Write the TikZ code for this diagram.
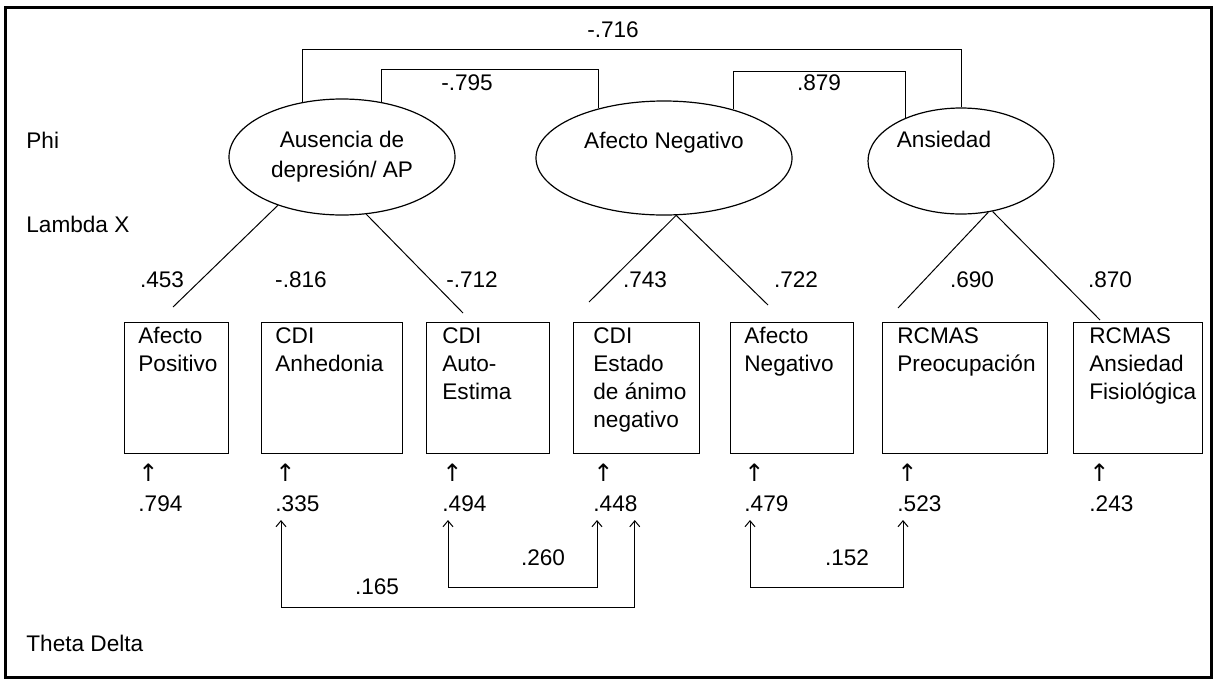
\documentclass[tikz,border=0pt]{standalone}
\usepackage{fontspec}
\setmainfont{Liberation Sans}
\newfontfamily\arrowfont{DejaVu Sans}
\usetikzlibrary{shapes.geometric,arrows.meta}

\newcommand{\uparr}{{\arrowfont\fontsize{12}{15}\selectfont ↑}}

\begin{document}
\begin{tikzpicture}[
    x=0.5pt, y=-0.5pt,
    latent/.style={ellipse, draw=black, line width=0.6pt, inner sep=0pt, align=center, font=\fontsize{11.3}{15}\selectfont},
    indicator/.style={rectangle, draw=black, line width=0.7pt, minimum height=65.5pt, inner sep=0pt, anchor=north west},
    indtext/.style={anchor=north west, align=left, inner sep=0pt, font=\fontsize{11.3}{14}\selectfont},
    errtext/.style={anchor=north west, align=left, inner sep=0pt, font=\fontsize{11.3}{15}\selectfont},
    coef/.style={inner sep=0pt, font=\fontsize{11.3}{13}\selectfont},
    rowlabel/.style={anchor=west, inner sep=0pt, font=\fontsize{11.3}{13}\selectfont},
    link/.style={line width=0.5pt},
    cov/.style={line width=0.5pt, {Straight Barb[length=3pt,width=5pt]}-{Straight Barb[length=3pt,width=5pt]}}
]

% Frame
\useasboundingbox (0,0) rectangle (1214,681);
\draw[line width=1.5pt] (5,7) rectangle (1211,677);

% Row labels
\node[rowlabel] (phi) at (26,140) {Phi};
\node[rowlabel] (lambda) at (26,224) {Lambda X};
\node[rowlabel] (theta) at (26,643) {Theta Delta};

% Latent variables
\node[latent, minimum width=113pt, minimum height=58pt] (aus) at (342,157) {Ausencia de\\depresión/ AP};
\node[latent, minimum width=128pt, minimum height=57pt] (afn) at (664,158) {Afecto Negativo\\[3pt]\mbox{}};
\node[latent, minimum width=93pt, minimum height=53pt] (ans) at (961,161) {Ansiedad\hspace*{17pt}\\[7pt]\mbox{}};

% Phi
\coordinate (h716) at (0,49);
\coordinate (h795) at (0,69);
\coordinate (h879) at (0,71);
\draw[link] (aus.126) -- (aus.126 |- h716) -| (ans.89);
\draw[link] (aus.54) -- (aus.54 |- h795) -| (afn.143);
\draw[link] (afn.35) -- (afn.35 |- h879) -| (ans.142);
\node[coef] (p716) at (613,30) {-.716};
\node[coef] (p795) at (467,83) {-.795};
\node[coef] (p879) at (819,83) {.879};

% Observed variables
\node[indicator, minimum width=52pt] (afpos) at (124,322) {};
\node[indicator, minimum width=70.5pt] (anh) at (261,322) {};
\node[indicator, minimum width=61.5pt] (aute) at (426,322) {};
\node[indicator, minimum width=63pt] (est) at (573,322) {};
\node[indicator, minimum width=61.5pt] (afneg) at (730,322) {};
\node[indicator, minimum width=82.5pt] (preo) at (882,322) {};
\node[indicator, minimum width=64.5pt] (fisi) at (1073,322) {};

\node[indtext] (afpos-t) at ([shift={(14,5)}]afpos.north west) {Afecto\\Positivo};
\node[indtext] (anh-t) at ([shift={(14,5)}]anh.north west) {CDI\\Anhedonia};
\node[indtext] (aute-t) at ([shift={(16,5)}]aute.north west) {CDI\\Auto-\\Estima};
\node[indtext] (est-t) at ([shift={(20,5)}]est.north west) {CDI\\Estado\\de ánimo\\negativo};
\node[indtext] (afneg-t) at ([shift={(14,5)}]afneg.north west) {Afecto\\Negativo};
\node[indtext] (preo-t) at ([shift={(15,5)}]preo.north west) {RCMAS\\Preocupación};
\node[indtext] (fisi-t) at ([shift={(16,5)}]fisi.north west) {RCMAS\\Ansiedad\\Fisiológica};

% Lambda X
\coordinate (l1) at (173,307);
\coordinate (l2) at (463,313);
\coordinate (l3) at (589,302);
\coordinate (l4) at (768,305);
\coordinate (l5) at (898,308);
\coordinate (l6) at (1100,320);
\draw[link] (aus.217) -- (l1);
\draw[link] (aus.293) -- (l2);
\draw[link] (afn.282) -- (l3);
\draw[link] (afn.282) -- (l4);
\draw[link] (ans.298) -- (l5);
\draw[link] (ans.302) -- (l6);
\node[coef] (k1) at (162,280) {.453};
\node[coef] (k2) at (301,280) {-.816};
\node[coef] (k3) at (472,280) {-.712};
\node[coef] (k4) at (645,280) {.743};
\node[coef] (k5) at (796,280) {.722};
\node[coef] (k6) at (972,280) {.690};
\node[coef] (k7) at (1110,280) {.870};

% Theta Delta
\node[errtext] (td1) at ([shift={(14,9)}]afpos.south west) {\uparr\\.794};
\node[errtext] (td2) at ([shift={(14,9)}]anh.south west) {\uparr\\.335};
\node[errtext] (td3) at ([shift={(16,9)}]aute.south west) {\uparr\\.494};
\node[errtext] (td4) at ([shift={(20,9)}]est.south west) {\uparr\\.448};
\node[errtext] (td5) at ([shift={(14,9)}]afneg.south west) {\uparr\\.479};
\node[errtext] (td6) at ([shift={(15,9)}]preo.south west) {\uparr\\.523};
\node[errtext] (td7) at ([shift={(16,9)}]fisi.south west) {\uparr\\.243};

\coordinate (c165) at (0,607);
\coordinate (c260) at (0,587);
\coordinate (c152) at (0,587);
\coordinate (e2) at ([shift={(6,8)}]td2.south west);
\coordinate (e3) at ([shift={(6,8)}]td3.south west);
\coordinate (e4) at ([shift={(4,8)}]td4.south west);
\coordinate (e4r) at ([shift={(-3,8)}]td4.south east);
\coordinate (e5) at ([shift={(6,8)}]td5.south west);
\coordinate (e6) at ([shift={(6,8)}]td6.south west);
\draw[cov] (e2) -- (e2 |- c165) -| (e4r);
\draw[cov] (e3) -- (e3 |- c260) -| (e4);
\draw[cov] (e5) -- (e5 |- c152) -| (e6);
\node[coef] (t165) at (377,587) {.165};
\node[coef] (t260) at (543,558) {.260};
\node[coef] (t152) at (847,558) {.152};

\end{tikzpicture}
\end{document}
